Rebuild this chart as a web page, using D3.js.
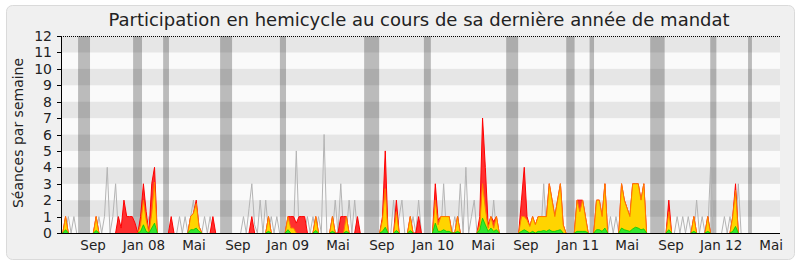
<!DOCTYPE html>
<html><head><meta charset="utf-8">
<script src="https://cdn.jsdelivr.net/npm/d3@7/dist/d3.min.js"></script>
<style>body{margin:0;background:#fff;} svg{display:block;font-family:"DejaVu Sans",Verdana,sans-serif;}</style>
</head><body><svg id="c" width="800" height="267"></svg>
<script>
// weekly values (week index 0..259)
const presence = [
0,0,1,0,0,0,0,0,0,0, 0,0,0,1,0,0,0,0,0,0, 0,1,0.3,2,1,1,1,0.6,0,1, 3,1.3,0,3,4,0,0,0,0,0,
1,0,0,0,0,0,0,1,1.2,2, 0.4,0,0,0,0,1,0,0,0,0, 0,0,0,0,0,0,0,0,0,1, 0,0,0,0,0,1,0,0,0,0,
0,0,1,1,1,0.6,1,1,1,0, 0,0,1,0,0,0,0,0,1,0, 0,1,1,1,0,0,0,1,0,0, 0,0,0,0,0,0,1,5,0,0,
0,2,0,0,0,0,1,0,0,1, 0,0,0,0,0,3,0.8,1,1,1, 1,0,0,1,0,0,0,0,0,0, 0,1,7,4,0.5,1,0.7,1,0,0,
0,0,0,0,0,0,2,4,1,0.4, 1,0.5,1,1,1,1,3,2,1,2, 3,0.5,0,0,0,0,2,2,2,1, 0,0,0,2,2,1,3,0,0,0,
0,0,3,2,1.5,1,3,3,3,2, 3,0,0,0,0,0,0,0,0,2, 0,0,0,0,0,0,0,0,1,0, 0,0,0,1,0,0,0,0,0,0,
0,0,1,3,0,0,0,0,0,0, 0,0,0,0,0,0,0,0,0,0];
const participation = [
0,0,1,0,0,0,0,0,0,0, 0,0,0,1,0,0,0,0,0,0, 0,0,0,0,0,0,0,0,0,0.5, 2,0.8,0,1.2,3.1,0,0,0,0,0,
0,0,0,0,0,0,0,1,1.2,1.8, 0.4,0,0,0,0,0,0,0,0,0, 0,0,0,0,0,0,0,0,0,0, 0,0,0,0,0,1,0,0,0,0,
0,0,1,0.3,0.3,0,0,0,0,0, 0,0,1,0,0,0,0,0,1,0, 0,0,0,1,0,0,0,0,0,0, 0,0,0,0,0,0,0.8,2.7,0,0,
0,1.3,0,0,0,0,1,0,0,0, 0,0,0,0,0,2,0.5,1,1,1, 1,0,0,1,0,0,0,0,0,0, 0,0.5,3,1.5,0.3,1,0.3,1,0,0,
0,0,0,0,0,0,1,1,0.8,0.4, 1,0.5,1,1,1,1,3,2,1,2, 3,0.5,0,0,0,0,2,1.3,2,1, 0,0,0,2,2,1,3,0,0,0,
0,0,3,2,1.5,1,3,3,3,2, 3,0,0,0,0,0,0,0,0,1.3, 0,0,0,0,0,0,0,0,1,0, 0,0,0,1,0,0,0,0,0,0,
0,0,1,2.6,0,0,0,0,0,0, 0,0,0,0,0,0,0,0,0,0];
const interventions = [
0,0,0.2,0,0,0,0,0,0,0, 0,0,0,0.15,0,0,0,0,0,0, 0,0,0,0,0,0,0,0,0,0.1, 0.5,0.1,0,0.3,0.6,0,0,0,0,0,
0,0,0,0,0,0,0,0.2,0.2,0.3, 0.1,0,0,0,0,0,0,0,0,0, 0,0,0,0,0,0,0,0,0,0, 0,0,0,0,0,0.1,0,0,0,0,
0,0,0.2,0,0,0,0,0,0,0, 0,0,0.15,0,0,0,0,0,0.1,0, 0,0,0,0.1,0,0,0,0,0,0, 0,0,0,0,0,0,0.1,0.35,0,0,
0,0.15,0,0,0,0,0.15,0,0,0, 0,0,0,0,0,0.6,0.1,0.1,0.2,0.1, 0.1,0,0,0.1,0,0,0,0,0,0, 0,0.2,0.9,0.5,0.1,0.3,0.1,0.2,0,0,
0,0,0,0,0,0,0.1,0.2,0.1,0, 0.1,0,0.1,0.1,0.15,0.1,0.2,0.1,0.1,0.15, 0.2,0,0,0,0,0,0.1,0.1,0.1,0.1, 0,0,0,0.2,0.2,0.1,0.3,0,0,0,
0,0,0.3,0.2,0.15,0.1,0.25,0.35,0.3,0.2, 0.25,0,0,0,0,0,0,0,0,0.2, 0,0,0,0,0,0,0,0,0.1,0, 0,0,0,0.1,0,0,0,0,0,0,
0,0,0.1,0.4,0,0,0,0,0,0, 0,0,0,0,0,0,0,0,0,0];
const mediane = [
0,0,0,1,0,1,0,0,0,0, 0,0,0,0,1,0,1,4,0,1, 3,0,0,0,0,0,0,0,0,0, 0,0,1,0,0,0,0,0,0,0,
0,0,0,1,0,1,0,1,2,0, 0,0,1,0,1,0,0,0,0,0, 0,0,0,0,0,0,1,0,1.5,3, 0.5,0,2,0,2,0,1,0,1,0,
0,0,0,0,0,5,0,0,0,1, 0,1,0,1,0,6,0,0,0,2, 0,3,0,0,2,0,2,0,0,0, 0,0,0,0,0,0,0,0,0,0,
2,0,1,2,0,0,0,1,0,2, 0,0,0,0,0,0,0,0,3,0, 0,0,1,0,3,0,4,0,1,2, 0,0,0,0,0,0,2,0,0,0,
0,0,0,0,0,0,0,0,0,0, 0,0,0,0,3,0,0,0,0,0, 0,0,0,0,0,0,0,0,0,0, 0,0,0,0,0,0,0,0,1,0,
1,0,0,0,0,0,0,0,0,0, 0,0,0,0,0,0,0,0,0,0, 0,0,1,0,1,0,1,0,0,2, 0,1,0,0,4,0,0,0,0,1,
0,1,0,0,3,0,0,0,0,0, 0,0,0,0,0,0,0,0,0,0];
const vacances = [[6.5,10.8],[26.3,29.5],[37.1,39.2],[57.6,61.9],[79.1,81.3],[109.4,114.8],[130.9,133.4],[160.5,164.8],[182.1,185.1],[190.5,192.1],[212.3,217.5],[233.9,236.1],[247.5,248.9]];
const tickLabels = ["Sep","Jan 08","Mai","Sep","Jan 09","Mai","Sep","Jan 10","Mai","Sep","Jan 11","Mai","Sep","Jan 12","Mai"];
const tickWeeks = [11.9,30.2,48.2,64.0,82.0,100.0,115.8,134.2,152.2,167.6,186.3,204.0,219.8,237.8,255.8];
const yTicks = d3.range(0,13);

const svg = d3.select("#c");
svg.append("rect").attr("x",6.5).attr("y",5.5).attr("width",788).attr("height",254).attr("rx",6)
  .attr("fill","#f0f0f0").attr("stroke","#dadada");

const plotL = 61, plotR = 780;
const x = d3.scaleLinear().domain([0,259]).range([60,780.02]);
const y = d3.scaleLinear().domain([0,12]).range([233,36]);

// stripes
svg.append("g").selectAll("rect").data(d3.range(12)).join("rect")
  .attr("x",plotL).attr("width",plotR-plotL)
  .attr("y",k=>y(k+1)).attr("height",k=>y(k)-y(k+1))
  .attr("fill",k=>k%2?"#e6e6e6":"#fafafa");

svg.append("defs").append("clipPath").attr("id","clip").append("rect")
  .attr("x",plotL+1).attr("y",30).attr("width",plotR-plotL-1).attr("height",y(0)-30);

// vacation bands
svg.append("g").selectAll("rect").data(vacances).join("rect")
  .attr("x",d=>x(d[0])).attr("width",d=>x(d[1])-x(d[0]))
  .attr("y",y(12)).attr("height",y(0)-y(12))
  .attr("fill","#000").attr("fill-opacity",0.25);

const g = svg.append("g").attr("clip-path","url(#clip)");
const idx = d3.range(presence.length);
const nz = arr => i => arr[i] > 0 || arr[i-1] > 0 || arr[i+1] > 0;
const line = arr => d3.line().defined(nz(arr)).x(i=>x(i)).y(i=>y(arr[i]))(idx);
const area = arr => d3.area().x(i=>x(i)).y0(y(0)).y1(i=>y(arr[i]))(idx);

g.append("path").attr("d",line(mediane)).attr("fill","none").attr("stroke","#b4b4b4").attr("stroke-width",1);
g.append("path").attr("d",area(presence)).attr("fill","#ff3030");
g.append("path").attr("d",line(presence)).attr("fill","none").attr("stroke","#ff0000").attr("stroke-width",1);
g.append("path").attr("d",area(participation)).attr("fill","#ffd400");
g.append("path").attr("d",line(participation)).attr("fill","none").attr("stroke","#ff7a00").attr("stroke-width",1);
g.append("path").attr("d",area(interventions)).attr("fill","#33e633");
g.append("path").attr("d",line(interventions)).attr("fill","none").attr("stroke","#00cc00").attr("stroke-width",0.8);

// top dotted line
svg.append("line").attr("x1",plotL).attr("x2",plotR).attr("y1",36.5).attr("y2",36.5)
  .attr("stroke","#000").attr("stroke-dasharray","1,1");

// axes
svg.append("line").attr("x1",61.5).attr("x2",61.5).attr("y1",36).attr("y2",234).attr("stroke","#000");
svg.append("line").attr("x1",61).attr("x2",plotR).attr("y1",233.5).attr("y2",233.5).attr("stroke","#000");
svg.append("g").selectAll("line").data(yTicks).join("line")
  .attr("x1",57).attr("x2",61).attr("y1",d=>Math.round(y(d))+0.5).attr("y2",d=>Math.round(y(d))+0.5).attr("stroke","#000");
svg.append("g").selectAll("text").data(yTicks).join("text")
  .attr("x",52).attr("y",d=>y(d)).attr("dy","0.36em").attr("text-anchor","end")
  .attr("font-size",14).attr("fill","#222").text(d=>d);

svg.append("g").selectAll("text").data(tickWeeks).join("text")
  .attr("x",d=>x(d)).attr("y",250).attr("text-anchor","middle")
  .attr("font-size",13.5).attr("fill","#222").text((d,i)=>tickLabels[i]);

svg.append("text").attr("transform","translate(23,133) rotate(-90)").attr("text-anchor","middle")
  .attr("font-size",14).attr("fill","#222").text("Séances par semaine");

svg.append("text").attr("x",419).attr("y",26).attr("text-anchor","middle")
  .attr("font-size",18).attr("fill","#222").text("Participation en hemicycle au cours de sa dernière année de mandat");
</script></body></html>
